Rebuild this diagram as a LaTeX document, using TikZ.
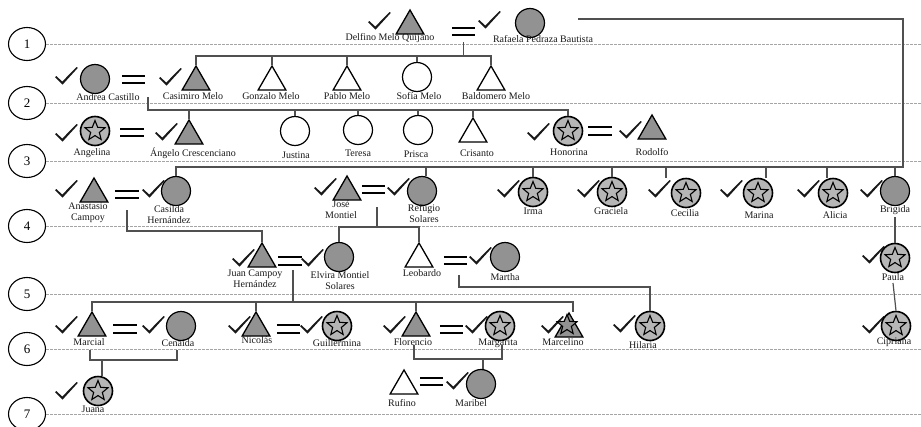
\documentclass[tikz,border=0pt]{standalone}
\usepackage{fontspec}
\setmainfont{Liberation Serif}
\usetikzlibrary{shapes.geometric}
\definecolor{symfill}{RGB}{146,146,146}
\definecolor{starfill}{RGB}{182,182,182}
\definecolor{linkc}{RGB}{80,80,80}
\definecolor{guide}{RGB}{165,165,165}
\definecolor{inkc}{RGB}{25,25,25}
\tikzset{
  male/.style={regular polygon, regular polygon sides=3, minimum size=32pt, inner sep=0pt,
    draw=black, line width=1.3pt, fill=symfill},
  maleopen/.style={male, fill=white},
  female/.style={circle, minimum size=29pt, inner sep=0pt, draw=black, line width=1.2pt, fill=symfill},
  femaleopen/.style={female, fill=white},
  starmark/.style={star, star points=5, star point ratio=2.3, minimum size=21pt, inner sep=0pt,
    draw=black, line width=1.1pt},
  femalestar/.style={female, fill=starfill, line width=1.6pt,
    path picture={\node[starmark, fill=starfill] at (path picture bounding box.center) {};}},
  person/.style={font=\fontsize{10}{11}\selectfont, text=inkc, inner sep=0pt, align=center},
  gen/.style={ellipse, minimum width=37pt, minimum height=33pt, draw=black, line width=1.1pt,
    inner sep=0pt, font=\fontsize{13}{13}\selectfont},
  guideline/.style={guide, line width=0.8pt, dash pattern=on 2.5pt off 1.5pt},
  link/.style={linkc, line width=1.2pt},
  eqbar/.style={black, line width=1.7pt},
  eqspot/.style={inner sep=0pt, minimum width=23pt, minimum height=7pt},
}
% check mark, given by its top-left corner
\newcommand\chk[2]{\fill[inkc,shift={(#1,#2)}] (0,10.2) -- (1.4,9) -- (7.2,14.6) -- (21.6,0) -- (22.8,0.9) -- (7.6,17.6) -- cycle;}
% marriage sign: named spot plus two bars
\newcommand\eqs[3]{\node[eqspot] (#1) at (#2,#3) {};
  \draw[eqbar] (#1.north west) -- (#1.north east) (#1.south west) -- (#1.south east);}
\begin{document}
\begin{tikzpicture}[x=1pt,y=-1pt]
\useasboundingbox (0,0) rectangle (921,426);

% generation markers and guide lines
\foreach \g/\yy in {1/44,2/103,3/161,4/226,5/294,6/349,7/414}{
  \node[gen] (g\g) at (27,\yy) {\g};
  \draw[guideline] (g\g.east) -- (921,\yy);
}

% ---------- generation 1
\chk{368}{12}
\node[male] (delfino) at (410,26) {};
\node[person] (l-delfino) at (390,38) {Delfino Melo Quijano};
\eqs{eq1}{463.5}{31.5}
\chk{478}{11}
\node[female] (rafaela) at (530,23) {};
\node[person] (l-rafaela) at (543,39) {Rafaela Pedraza Bautista};

% ---------- generation 2
\chk{55}{67}
\node[female] (andrea) at (95,79) {};
\node[person] (l-andrea) at (108,97) {Andrea Castillo};
\eqs{eq2}{133.5}{79.5}
\chk{159}{68}
\node[male] (casimiro) at (196,82) {};
\node[person] (l-casimiro) at (193,96) {Casimiro Melo};
\node[maleopen] (gonzalo) at (272,82) {};
\node[person] (l-gonzalo) at (271,96) {Gonzalo Melo};
\node[maleopen] (pablo) at (347,82) {};
\node[person] (l-pablo) at (347,96) {Pablo Melo};
\node[femaleopen] (sofia) at (417,77) {};
\node[person] (l-sofia) at (419,96) {Sofía Melo};
\node[maleopen] (baldomero) at (491,82) {};
\node[person] (l-baldomero) at (496,96) {Baldomero Melo};

% ---------- generation 3
\chk{55}{124}
\node[femalestar] (angelina) at (95,131) {};
\node[person] (l-angelina) at (92,153) {Angelina};
\eqs{eq3}{132}{132.5}
\chk{155}{123}
\node[male] (angelo) at (189,136) {};
\node[person] (l-angelo) at (193,153) {Ángelo Crescenciano};
\node[femaleopen] (justina) at (295,131) {};
\node[person] (l-justina) at (296,155) {Justina};
\node[femaleopen] (teresa) at (358,130) {};
\node[person] (l-teresa) at (358,153) {Teresa};
\node[femaleopen] (prisca) at (418,130) {};
\node[person] (l-prisca) at (416,154) {Prisca};
\node[maleopen] (crisanto) at (473,134) {};
\node[person] (l-crisanto) at (477,153) {Crisanto};
\chk{527}{123}
\node[femalestar] (honorina) at (568,131) {};
\node[person] (l-honorina) at (569,152) {Honorina};
\eqs{eq3b}{600}{131}
\chk{619}{121}
\node[male] (rodolfo) at (652,131) {};
\node[person] (l-rodolfo) at (652,152) {Rodolfo};

% ---------- generation 4
\chk{55}{180}
\node[male] (anastasio) at (94,194) {};
\node[person] (l-anastasio) at (88,212.5) {Anastasio\\Campoy};
\eqs{eq4}{127}{194.5}
\chk{142}{180}
\node[female] (casilda) at (176,191) {};
\node[person] (l-casilda) at (169,214.5) {Casilda\\Hernández};
\chk{314}{178}
\node[male] (jose) at (347,192) {};
\node[person] (l-jose) at (341,209.5) {José\\Montiel};
\eqs{eq4b}{373.5}{189.5}
\chk{387}{178}
\node[female] (refugio) at (422,191) {};
\node[person] (l-refugio) at (424,213.5) {Refugio\\Solares};
\chk{497}{180}
\node[femalestar] (irma) at (533,192) {};
\node[person] (l-irma) at (533,211) {Irma};
\chk{577}{180}
\node[femalestar] (graciela) at (612,192) {};
\node[person] (l-graciela) at (611,211) {Graciela};
\chk{648}{180}
\node[femalestar] (cecilia) at (686,193) {};
\node[person] (l-cecilia) at (685,213) {Cecilia};
\chk{720}{180}
\node[femalestar] (marina) at (758,193) {};
\node[person] (l-marina) at (759,215) {Marina};
\chk{797}{180}
\node[femalestar] (alicia) at (833,193) {};
\node[person] (l-alicia) at (835,215) {Alicia};
\chk{860}{180}
\node[female] (brigida) at (895,191) {};
\node[person] (l-brigida) at (895,210) {Brígida};

% ---------- generation 5
\chk{232}{249}
\node[male] (juan) at (262,259) {};
\node[person] (l-juan) at (255,278.5) {Juan Campoy\\Hernández};
\eqs{eq5}{290}{261}
\chk{301}{249}
\node[female] (elvira) at (339,257) {};
\node[person] (l-elvira) at (340,281) {Elvira Montiel\\Solares};
\node[maleopen] (leobardo) at (419,259) {};
\node[person] (l-leobardo) at (422,273) {Leobardo};
\eqs{eq5b}{455.5}{260.5}
\chk{469}{247}
\node[female] (martha) at (505,257) {};
\node[person] (l-martha) at (505,277) {Martha};
\chk{862}{246}
\node[femalestar] (paula) at (895,258) {};
\node[person] (l-paula) at (893,277) {Paula};

% ---------- generation 6
\chk{55}{316}
\node[male] (marcial) at (92,328) {};
\node[person] (l-marcial) at (89,342) {Marcial};
\eqs{eq6}{125}{329}
\chk{142}{316}
\node[female] (cenaida) at (181,326) {};
\node[person] (l-cenaida) at (178,343) {Cenaida};
\chk{228}{316}
\node[male] (nicolas) at (256,328) {};
\node[person] (l-nicolas) at (257,340) {Nicolás};
\eqs{eq6b}{288.5}{329}
\chk{300}{316}
\node[femalestar] (guillermina) at (337,326) {};
\node[person] (l-guillermina) at (337,343) {Guillermina};
\chk{383}{316}
\node[male] (florencio) at (416,328) {};
\node[person] (l-florencio) at (413,342) {Florencio};
\eqs{eq6c}{451.5}{329.5}
\chk{465}{316}
\node[femalestar] (margarita) at (500,326) {};
\node[person] (l-margarita) at (498,343) {Margarita};
\chk{541}{316}
\node[male] (marcelino) at (569,329) {};
\node[starmark, fill=symfill] (marcelino-star) at (567,325) {};
\node[person] (l-marcelino) at (563,342) {Marcelino};
\chk{613}{315}
\node[femalestar] (hilaria) at (650,326) {};
\node[person] (l-hilaria) at (643,345) {Hilaria};
\chk{862}{316}
\node[femalestar] (cipriana) at (896,326) {};
\node[person] (l-cipriana) at (894,342) {Cipriana};

% ---------- generation 7
\chk{55}{382}
\node[femalestar] (juana) at (98,391) {};
\node[person] (l-juana) at (93,409) {Juana};
\node[maleopen] (rufino) at (404,386) {};
\node[person] (l-rufino) at (402,403) {Rufino};
\eqs{eq7}{431.5}{381.5}
\chk{446}{372}
\node[female] (maribel) at (481,384) {};
\node[person] (l-maribel) at (471,403) {Maribel};

% ---------- descent lines
% children of Delfino and Rafaela
\coordinate (bar1) at (463.5,56);
\draw[link] (eq1.south |- 0,42) -- (bar1);
\draw[link] (casimiro.north) |- (bar1) -| (baldomero.north);
\foreach \c in {gonzalo,pablo,sofia}
  \draw[link] (\c.north) -- (\c.north |- bar1);

% children of Andrea and Casimiro
\coordinate (d2) at (148,97);
\coordinate (bar2) at (148,110);
\draw[link] (d2) -- (bar2) -| (honorina.north);
\foreach \c in {angelo,justina,teresa,prisca,crisanto}
  \draw[link] (\c.north) -- (\c.north |- bar2);

% line from Rafaela round to the sibling bar of generation 4
\coordinate (rl) at (578,19);
\coordinate (bar3) at (903,167);
\draw[link] (rl) -| (bar3) -| (casilda.north);
\foreach \c in {irma,graciela,brigida}
  \draw[link] (\c.north) -- (\c.north |- bar3);
\draw[link] ([xshift=4pt]refugio.north) -- ([xshift=4pt]refugio.north |- bar3);
\draw[link] ([xshift=-20pt]cecilia.north) -- ([xshift=-20pt]cecilia.north |- bar3);
\draw[link] ([xshift=8pt]marina.north) -- ([xshift=8pt]marina.north |- bar3);
\draw[link] ([xshift=-6pt]alicia.north) -- ([xshift=-6pt]alicia.north |- bar3);

% Brígida - Paula - Cipriana
\draw[link] (l-brigida.south |- 0,217) -- (paula.north);
\draw[link] (l-paula.south |- 0,283) -- (cipriana.north);

% child of Anastasio and Casilda
\coordinate (d4) at (127,210);
\draw[link] (d4) |- (0,231 -| juan.north) -- (juan.north);

% children of José and Refugio
\coordinate (d4b) at (377,207);
\coordinate (bar4) at (377,227);
\draw[link] (d4b) -- (bar4);
\draw[link] (elvira.north) -- (elvira.north |- bar4) -- (leobardo.north |- bar4) -- (leobardo.north);

% children of Juan and Elvira
\coordinate (d5) at (293,270);
\coordinate (bar5) at (293,302);
\draw[link] (d5) -- (bar5);
\draw[link] (marcial.north) -- (marcial.north |- bar5) -- ([xshift=4pt]marcelino.north |- bar5) -- ([xshift=4pt]marcelino.north);
\foreach \c in {nicolas,florencio}
  \draw[link] (\c.north) -- (\c.north |- bar5);

% child of Leobardo and Martha
\coordinate (d5b) at (459,275);
\draw[link] (d5b) |- (0,287 -| hilaria.north) -- (hilaria.north);

% child of Marcial and Cenaida
\coordinate (m1) at (90,350);
\coordinate (m2) at (177,350);
\coordinate (jb) at (102,360);
\draw[link] (m1) |- (jb) -| (m2);
\draw[link] (jb) -- (jb |- juana.north);

% child of Florencio and Margarita
\coordinate (f1) at (414,345);
\coordinate (f2) at (502,345);
\coordinate (fb) at (483,359);
\draw[link] (f1) |- (fb) -| (f2);
\draw[link] (fb) -- (fb |- maribel.north);
\end{tikzpicture}
\end{document}
